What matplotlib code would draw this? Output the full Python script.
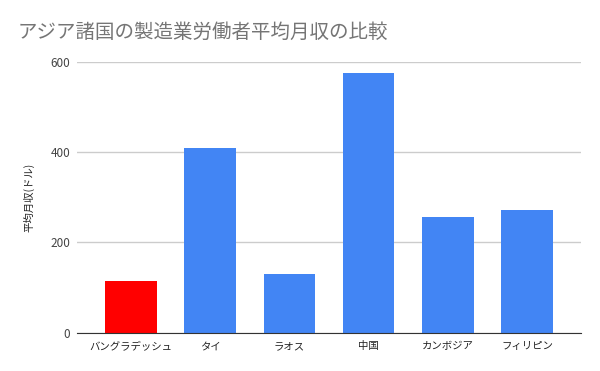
import matplotlib
matplotlib.use("Agg")
import matplotlib.pyplot as plt

plt.rcParams['font.family'] = ['Noto Sans CJK JP', 'DejaVu Sans']

# データ
countries = ["バングラデッシュ", "タイ", "ラオス", "中国", "カンボジア", "フィリピン"]
monthly_wage = [114, 410, 130, 576, 257, 272]
bar_colors = ["#ff0000", "#4285f4", "#4285f4", "#4285f4", "#4285f4", "#4285f4"]
yticks = [0, 200, 400, 600]

fig = plt.figure(figsize=(6, 3.71), dpi=100)
ax = fig.add_axes([77/600, 1 - 332.7/371, (581 - 77)/600, (332.7 - 62)/371])

x = range(len(countries))
ax.bar(x, monthly_wage, width=0.65, color=bar_colors, zorder=3)

ax.set_xlim(-0.68, len(countries) - 1 + 0.68)
ax.set_ylim(0, 600)
ax.set_yticks(yticks)
ax.set_xticks(list(x))
ax.set_xticklabels(countries, fontsize=7.5, color="#222222")
ax.tick_params(axis="y", labelsize=8.5, colors="#444444", length=0, pad=5)
ax.tick_params(axis="x", length=0, pad=6)
ax.grid(axis="y", color="#cccccc", linewidth=1, zorder=0)

for s in ["top", "right", "left"]:
    ax.spines[s].set_visible(False)
ax.spines["bottom"].set_color("#333333")
ax.spines["bottom"].set_zorder(4)

ax.set_ylabel("平均月収(ドル)", fontsize=7.5, color="#222222", labelpad=11)

fig.text(18/600, 1 - 32/371, "アジア諸国の製造業労働者平均月収の比較",
         fontsize=14, color="#757575", va="center", ha="left")

fig.savefig("out.png", dpi=100)
